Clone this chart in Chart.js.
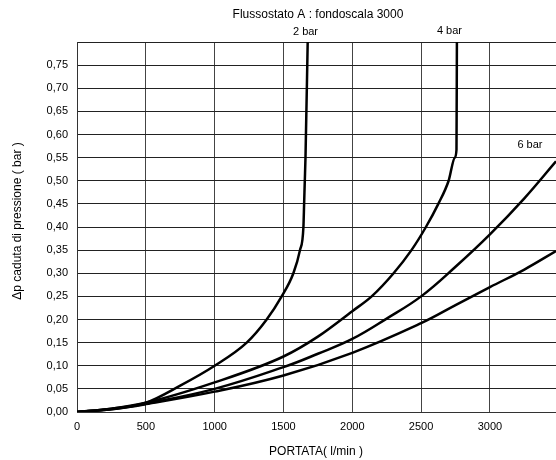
<!DOCTYPE html>
<html>
<head>
<meta charset="utf-8">
<script src="https://cdn.jsdelivr.net/npm/chart.js@4/dist/chart.umd.min.js"></script>
<style>
  html, body { margin: 0; padding: 0; background: #fff; }
  #wrap { width: 556px; height: 460px; }
</style>
</head>
<body>
<div id="wrap"><canvas id="chart" width="556" height="460"></canvas></div>
<script>
// portata (l/min) / caduta di pressione (bar) per ciascuna curva
const flow2 = [0, 250, 500, 750, 1000, 1233, 1378, 1487, 1572, 1620, 1645, 1650, 1655, 1660, 1676];
const dp2   = [0, 0.007, 0.02, 0.057, 0.10, 0.15, 0.20, 0.25, 0.30, 0.35, 0.40, 0.45, 0.50, 0.55, 0.80];

const flow4 = [0, 250, 500, 1000, 1500, 1750, 2000, 2141, 2300, 2430, 2535, 2625, 2700, 2745, 2757, 2760];
const dp4   = [0, 0.007, 0.02, 0.064, 0.12, 0.163, 0.218, 0.25, 0.30, 0.35, 0.40, 0.45, 0.50, 0.55, 0.567, 0.80];

const flow6 = [0, 250, 500, 1000, 1500, 1750, 2000, 2250, 2500, 2750, 3000, 3250, 3480];
const dp6   = [0, 0.006, 0.018, 0.05, 0.097, 0.126, 0.158, 0.202, 0.25, 0.314, 0.384, 0.462, 0.542];

const flow8 = [0, 250, 500, 1000, 1500, 2000, 2500, 2750, 3000, 3250, 3480];
const dp8   = [0, 0.006, 0.017, 0.044, 0.079, 0.128, 0.192, 0.231, 0.27, 0.308, 0.348];

// tacche degli assi
const xTicks = [0, 500, 1000, 1500, 2000, 2500, 3000];
const yTicks = [0, 0.05, 0.10, 0.15, 0.20, 0.25, 0.30, 0.35, 0.40, 0.45, 0.50, 0.55, 0.60, 0.65, 0.70, 0.75, 0.80];

// etichette delle curve (in coordinate dati)
const curveLabels = ['2 bar', '4 bar', '6 bar'];
const labelFlow = [1660, 2706, 3291];
const labelDp = [0.822, 0.824, 0.578];

const xMax = 3480;
const yMax = 0.80;

function toPoints(xs, ys) {
    return xs.map((x, i) => ({ x: x, y: ys[i] }));
}

function curve(xs, ys, smooth) {
    const ds = {
        data: toPoints(xs, ys),
        borderColor: '#000',
        borderWidth: 2.5,
        pointRadius: 0,
        fill: false
    };
    if (smooth) {
        ds.tension = 0.4;
    } else {
        ds.cubicInterpolationMode = 'monotone';
    }
    return ds;
}

const textPlugin = {
    id: 'texts',
    afterDraw(chart) {
        const ctx = chart.ctx;
        const xs = chart.scales.x;
        const ys = chart.scales.y;
        ctx.save();
        ctx.fillStyle = '#000';
        ctx.textAlign = 'center';
        ctx.textBaseline = 'middle';
        ctx.font = "11px 'Liberation Sans', Arial, sans-serif";
        curveLabels.forEach((t, i) => {
            ctx.fillText(t, xs.getPixelForValue(labelFlow[i]), ys.getPixelForValue(labelDp[i]));
        });
        ctx.font = "12px 'Liberation Sans', Arial, sans-serif";
        ctx.fillText('Flussostato A : fondoscala 3000', 318, 15);
        ctx.fillText('PORTATA( l/min )', 316, 452);
        ctx.translate(18, 221);
        ctx.rotate(-Math.PI / 2);
        ctx.fillText('\u0394p caduta di pressione ( bar )', 0, 0);
        ctx.restore();
    }
};

Chart.defaults.font.family = "'Liberation Sans', Arial, sans-serif";
Chart.defaults.font.size = 11;
Chart.defaults.color = '#000';

new Chart(document.getElementById('chart'), {
    type: 'line',
    data: {
        datasets: [
            curve(flow2, dp2, false),
            curve(flow4, dp4, false),
            curve(flow6, dp6, true),
            curve(flow8, dp8, true)
        ]
    },
    options: {
        responsive: false,
        animation: false,
        layout: { padding: { top: 42, left: 0, right: 0, bottom: 0 } },
        plugins: {
            legend: { display: false },
            tooltip: { enabled: false }
        },
        scales: {
            x: {
                type: 'linear',
                min: 0,
                max: xMax,
                afterBuildTicks: (scale) => {
                    scale.ticks = xTicks.map(v => ({ value: v }));
                },
                afterFit: (scale) => { scale.height = 48; },
                ticks: {
                    padding: 8,
                    maxRotation: 0,
                    autoSkip: false,
                    color: '#000',
                    callback: (v) => String(v)
                },
                grid: { color: '#444', lineWidth: 1, drawTicks: false },
                border: { display: true, color: '#333', width: 1 }
            },
            y: {
                type: 'linear',
                min: 0,
                max: yMax,
                afterBuildTicks: (scale) => {
                    scale.ticks = yTicks.map(v => ({ value: v }));
                },
                afterFit: (scale) => { scale.width = 77; },
                ticks: {
                    padding: 9,
                    autoSkip: false,
                    color: '#000',
                    callback: (v) => v > 0.775 ? '' : v.toFixed(2).replace('.', ',')
                },
                grid: { color: '#222', lineWidth: 1, drawTicks: false },
                border: { display: true, color: '#333', width: 1 }
            }
        }
    },
    plugins: [textPlugin]
});
</script>
</body>
</html>
